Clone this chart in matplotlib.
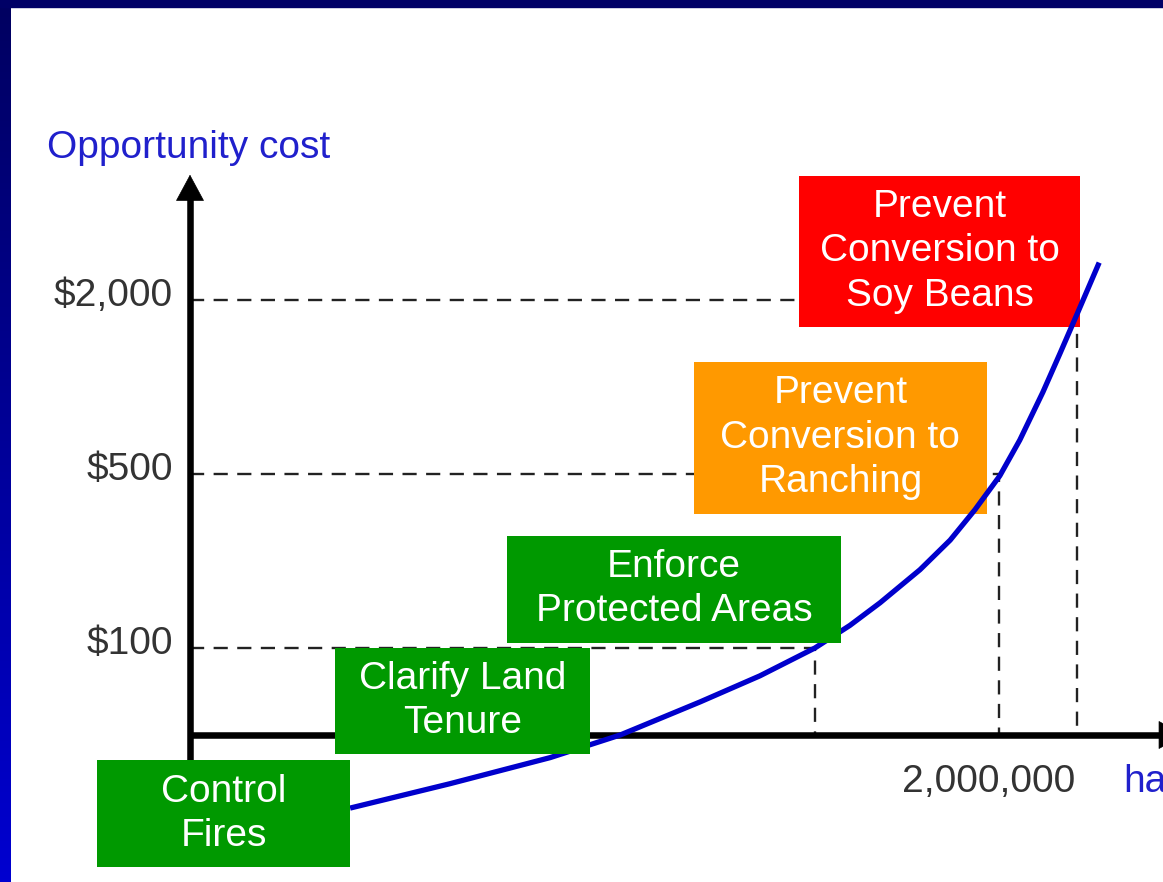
import matplotlib

matplotlib.use("Agg")
import matplotlib.pyplot as plt
import numpy as np
from matplotlib.colors import LinearSegmentedColormap
from matplotlib.patches import Rectangle

# Schematic y axis: cost levels sit at evenly spaced steps above the x-axis.
cost_labels = ["$100", "$500", "$2,000"]
cost_levels = [1, 3, 5]
area_at_cost = [1_410_000, 1_825_000, 2_000_000]   # ha where the curve hits each cost
area_ticks = [2_000_000]

# Marginal opportunity-cost curve (ha, schematic level).
curve_ha = [361e3, 586e3, 812e3, 970e3, 1150e3, 1285e3, 1409e3, 1488e3, 1556e3,
            1646e3, 1714e3, 1770e3, 1826e3, 1871e3, 1923e3, 1962e3, 2002e3, 2050e3]
curve_level = [-0.84, -0.56, -0.26, 0.0, 0.38, 0.68, 1.0, 1.26, 1.52,
               1.9, 2.24, 2.59, 2.98, 3.39, 3.94, 4.39, 4.86, 5.43]

# Policy boxes: label, colour, x-extent (ha), y-extent (level), drawn above curve?
boxes = [
    ("Control\nFires", "#009900", (-210e3, 361e3), (-1.52, -0.29), True),
    ("Clarify Land\nTenure", "#009900", (327e3, 902e3), (-0.22, 1.0), True),
    ("Enforce\nProtected Areas", "#009900", (715e3, 1468e3), (1.06, 2.29), True),
    ("Prevent\nConversion to\nRanching", "#FF9900", (1136e3, 1797e3), (2.54, 4.29), False),
    ("Prevent\nConversion to\nSoy Beans", "#FF0000", (1373e3, 2007e3), (4.69, 6.43), False),
]

W, H = 1163, 882
PX_X0, PX_Y0 = 190, 735          # origin in pixels
HA_PER_PX = 2e6 / 887
LVL_PER_PX = 1 / 87

plt.rcParams["font.family"] = ["Liberation Sans", "DejaVu Sans"]
FS = 28
BLUE_TXT = "#2020cc"
GREY_TXT = "#333333"

fig = plt.figure(figsize=(W / 100, H / 100), dpi=100, facecolor="white")

# slide border: navy strip on top, gradient strip on the left
strip = fig.add_axes([0, 0, 11 / W, 1])
cmap = LinearSegmentedColormap.from_list("navy", ["#000060", "#0000d0"])
strip.imshow(np.linspace(0, 1, 256)[:, None], aspect="auto", cmap=cmap)
strip.axis("off")
fig.add_artist(Rectangle((0, 1 - 7 / H), 1, 7 / H, transform=fig.transFigure,
                         color="#000066", zorder=10))

ax = fig.add_axes([0, 0, 1, 1])
ax.set_facecolor("none")
ax.set_xlim(-PX_X0 * HA_PER_PX, (W - PX_X0) * HA_PER_PX)
ax.set_ylim(-(H - PX_Y0) * LVL_PER_PX, PX_Y0 * LVL_PER_PX)
ax.axis("off")

# axes: thick shaft plus a filled triangular head
head = "-|>,head_length=1.8,head_width=0.97"
y_tip, x_tip = 6.44, 2_243_000
ax.plot([0, 0], [-0.35, y_tip - 0.2], color="black", lw=4.7,
        solid_capstyle="butt", zorder=2)
ax.plot([-5e3, x_tip - 40e3], [0, 0], color="black", lw=4.7,
        solid_capstyle="butt", zorder=2)
for tip, base in [((0, y_tip), (0, y_tip - 0.6)), ((x_tip, 0), (x_tip - 120e3, 0))]:
    ax.annotate("", xy=tip, xytext=base, annotation_clip=False,
                arrowprops=dict(arrowstyle=head, lw=0.5, color="black", shrinkA=0,
                                shrinkB=0, mutation_scale=10), zorder=2)

# dashed guides from each cost level to the curve and down to the x-axis
for lvl, ha in zip(cost_levels, area_at_cost):
    ax.plot([0, ha, ha], [lvl, lvl, 0], color="#222222", lw=1.7,
            dashes=(6, 4), zorder=1)

for lab, lvl in zip(cost_labels, cost_levels):
    ax.text(-38e3, lvl - 0.07, lab, ha="right", va="baseline", fontsize=FS,
            color=GREY_TXT)

for v in area_ticks:
    ax.text(v - 5e3, -0.655, f"{v:,}", ha="right", va="baseline", fontsize=FS,
            color=GREY_TXT)
ax.text(2_104e3, -0.655, "ha", ha="left", va="baseline", fontsize=FS, color=BLUE_TXT)
ax.text(-322e3, 6.63, "Opportunity cost", ha="left", va="baseline", fontsize=FS,
        color=BLUE_TXT)

ax.plot(curve_ha, curve_level, color="#0000cc", lw=3.8, solid_joinstyle="round",
        solid_capstyle="butt", zorder=4)

for text, col, (x0, x1), (y0, y1), top in boxes:
    z = 5 if top else 3
    ax.add_patch(Rectangle((x0, y0), x1 - x0, y1 - y0, facecolor=col,
                           edgecolor="none", zorder=z))
    ax.text((x0 + x1) / 2, (y0 + y1) / 2, text, ha="center", va="center",
            multialignment="center", linespacing=1.3, fontsize=FS,
            color="white", zorder=z + 0.5)

fig.savefig("out.png", dpi=100)
